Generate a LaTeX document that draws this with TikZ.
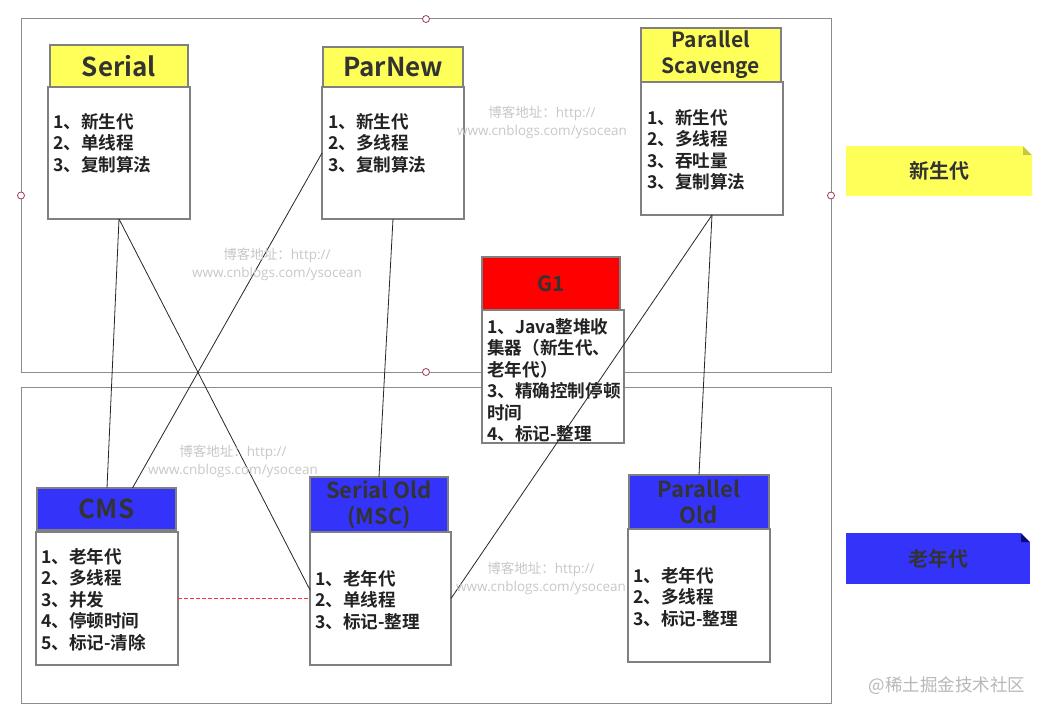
\documentclass[tikz,border=0pt]{standalone}
\usepackage{fontspec}
\setmainfont{Noto Sans CJK SC}[BoldFont={Noto Sans CJK SC Bold}]
\newfontfamily\wmlatin{Open Sans}
\usetikzlibrary{calc}
\definecolor{ylw}{RGB}{255,255,90}
\definecolor{blu}{RGB}{51,51,250}
\definecolor{rd}{RGB}{255,0,0}
\definecolor{bordergray}{RGB}{128,128,128}
\definecolor{framegray}{RGB}{140,140,140}
\definecolor{handlecol}{RGB}{160,60,80}
\definecolor{txt}{RGB}{34,34,34}
\definecolor{ttl}{RGB}{51,51,51}
\definecolor{wm}{RGB}{200,200,200}
\definecolor{ylwfold}{RGB}{200,200,60}
\definecolor{blufold}{RGB}{10,10,120}
\newcommand\bodylines[4]{%
  \foreach \txtline [count=\i] in {#4}
    \node[bodytxt] (#1-\i) at ({#2},{#3+(\i-1)*21.5}) {\txtline};}
\newcommand\wmtext{博客地址：{\wmlatin http://}\\{\wmlatin www.cnblogs.com/ysocean}}
\begin{document}
\begin{tikzpicture}[x=1pt,y=-1pt,
  region/.style={draw=framegray,line width=1pt,inner sep=0,outer sep=0},
  hdl/.style={circle,draw=handlecol,fill=white,line width=0.8pt,minimum size=7pt,inner sep=0},
  head/.style={draw=bordergray,line width=1.2pt,inner sep=0,outer sep=0,text=ttl,
    font=\bfseries\fontsize{22}{26}\selectfont,align=center},
  bodybox/.style={draw=bordergray,line width=1.2pt,fill=white,inner sep=0,outer sep=0,
    minimum width=142pt,minimum height=133pt},
  bodytxt/.style={inner sep=0,text=txt,font=\bfseries\fontsize{17.6}{21.5}\selectfont,anchor=base west},
  link/.style={draw=black!85,line width=0.8pt},
  wmark/.style={text=wm,font=\fontsize{13.5}{18}\selectfont,align=center,inner sep=0},
  tag/.style={inner sep=0,outer sep=0,minimum width=186pt,minimum height=50pt,text=ttl,
    font=\bfseries\fontsize{20}{24}\selectfont}
]
\useasboundingbox (0,0) rectangle (1046,717);
\fill[white] (0,0) rectangle (1046,717);

% regions
\node[region,minimum width=810pt,minimum height=353pt] (young) at (426,195.5) {};
\node[region,minimum width=810pt,minimum height=316pt] (old) at (426,545) {};
\node[hdl] (hn) at (young.north) {};
\node[hdl] (hw) at (young.west) {};
\node[hdl] (he) at (young.east) {};
\node[hdl] (hs) at (young.south) {};

% Serial
\node[head,fill=ylw,minimum width=138pt,minimum height=43pt,font=\bfseries\fontsize{26}{30}\selectfont] (serH) at (119,66.5) {Serial};
\node[bodybox,minimum height=132pt] (serB) at (119,153) {};
\bodylines{serT}{53}{128}{1、新生代,2、单线程,3、复制算法}

% ParNew
\node[head,fill=ylw,minimum width=140pt,minimum height=40pt,font=\bfseries\fontsize{26}{30}\selectfont] (pnH) at (393,67) {ParNew};
\node[bodybox,minimum height=132pt] (pnB) at (393,153) {};
\bodylines{pnT}{328}{128}{1、新生代,2、多线程,3、复制算法}

% Parallel Scavenge
\node[head,fill=ylw,minimum width=140pt,minimum height=54pt,font=\bfseries\fontsize{21}{26}\selectfont] (psH) at (711,55) {Parallel\\Scavenge};
\node[bodybox] (psB) at (712,148.5) {};
\bodylines{psT}{647}{124}{1、新生代,2、多线程,3、吞吐量,3、复制算法}

% G1
\node[head,fill=rd,minimum width=138pt,minimum height=53pt,font=\bfseries\fontsize{21}{26}\selectfont] (g1H) at (551,283.5) {G1};
\node[bodybox] (g1B) at (553,376.5) {};
\bodylines{g1T}{487}{333}{1、Java整堆收,集器（新生代、,老年代）,3、精确控制停顿,时间,4、标记-整理}

% CMS
\node[head,fill=blu,minimum width=139pt,minimum height=42pt,font=\bfseries\fontsize{26}{30}\selectfont] (cmsH) at (106.5,509) {CMS};
\node[bodybox] (cmsB) at (107,598.5) {};
\bodylines{cmsT}{41}{563}{1、老年代,2、多线程,3、并发,4、停顿时间,5、标记-清除}

% Serial Old
\node[head,fill=blu,minimum width=138pt,minimum height=55pt] (soH) at (379,504.5) {Serial Old\\(MSC)};
\node[bodybox,minimum width=141pt] (soB) at (380.5,598.5) {};
\bodylines{soT}{315}{585}{1、老年代,2、单线程,3、标记-整理}

% Parallel Old
\node[head,fill=blu,minimum width=140pt,minimum height=54pt] (poH) at (699,502) {Parallel\\Old};
\node[bodybox] (poB) at (699,595.5) {};
\bodylines{poT}{633}{582}{1、老年代,2、多线程,3、标记-整理}

% tags
\node[tag,fill=ylw] (tagY) at (939,171) {新生代};
\fill[ylwfold] (tagY.north east) ++(-9,0) -- ++(9,9) -- ++(-9,0) -- cycle;
\fill[white] (tagY.north east) ++(-9,0) -- ++(9,0) -- ++(0,9) -- cycle;
\node[tag,fill=blu,minimum width=184pt,minimum height=51pt] (tagB) at (938,558.5) {老年代};
\fill[blufold] (tagB.north east) ++(-9,0) -- ++(9,9) -- ++(-9,0) -- cycle;
\fill[white] (tagB.north east) ++(-9,0) -- ++(9,0) -- ++(0,9) -- cycle;

% connectors
\draw[link] (serB.south) -- ($(cmsH.north)+(0.5,0)$);
\draw[link] (serB.south) -- ($(soB.north west)+(0,58)$);
\draw[link] (pnB.west) -- ($(cmsH.north)+(26,0)$);
\draw[link] (pnB.south) -- (soH.north);
\draw[link] (psB.south) -- (poH.north);
\draw[link] (psB.south) -- (soB.east);
\draw[draw=red!80,line width=0.7pt,dashed,dash pattern=on 4pt off 2pt] (cmsB.east) -- (soB.west);

% watermarks
\node[wmark] (wm1) at (542,122) {\wmtext};
\node[wmark] (wm2) at (277,264) {\wmtext};
\node[wmark] (wm3) at (233,461) {\wmtext};
\node[wmark] (wm4) at (541,578) {\wmtext};
\node[text=black!28,font=\fontsize{17.5}{20}\selectfont,inner sep=0] (credit) at (947,686) {@稀土掘金技术社区};
\end{tikzpicture}
\end{document}
